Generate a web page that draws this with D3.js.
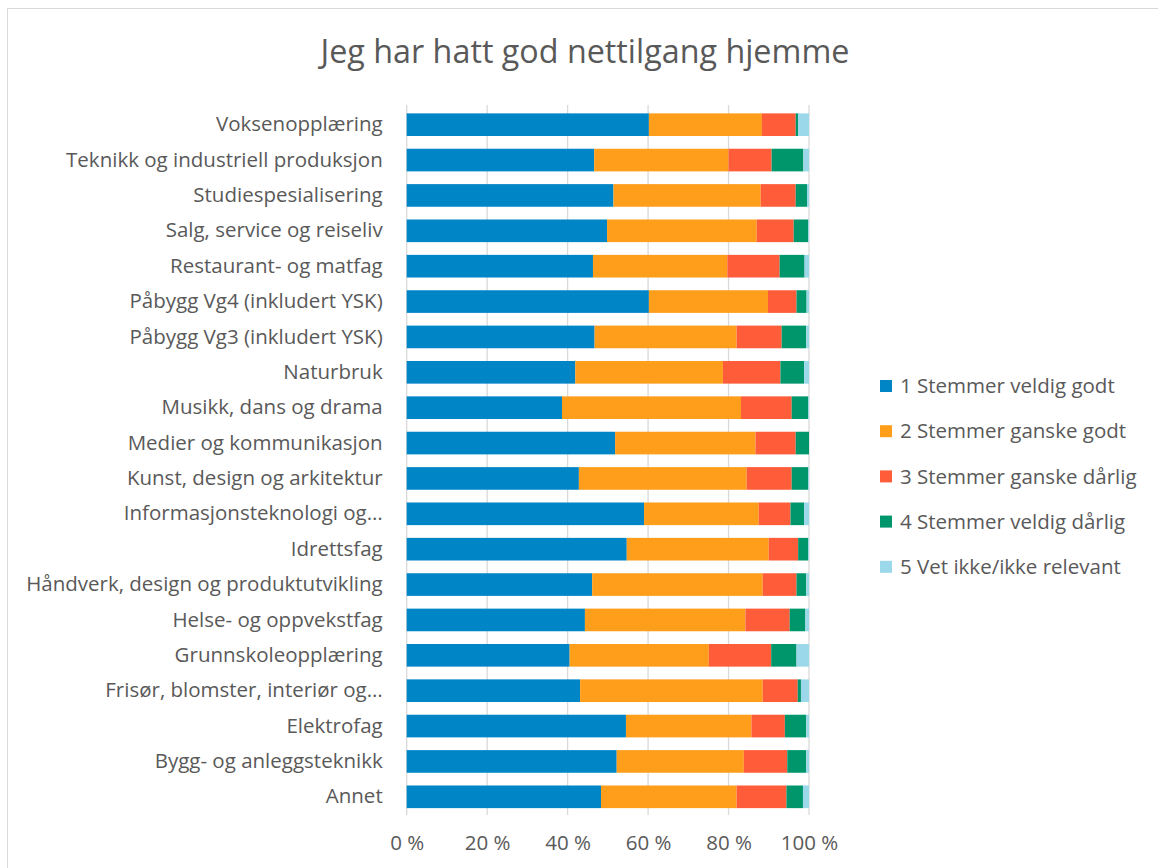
<!DOCTYPE html>
<html>
<head>
<meta charset="utf-8">
<script src="https://cdn.jsdelivr.net/npm/d3@7"></script>
<style>
  body { margin: 0; background: #fff; }
  text { font-family: "Open Sans", sans-serif; fill: #595959; }
</style>
</head>
<body>
<div id="chart"></div>
<script>
'use strict'

// categories, top to bottom
var categories = [
  'Voksenopplæring',
  'Teknikk og industriell produksjon',
  'Studiespesialisering',
  'Salg, service og reiseliv',
  'Restaurant- og matfag',
  'Påbygg Vg4 (inkludert YSK)',
  'Påbygg Vg3 (inkludert YSK)',
  'Naturbruk',
  'Musikk, dans og drama',
  'Medier og kommunikasjon',
  'Kunst, design og arkitektur',
  'Informasjonsteknologi og…',
  'Idrettsfag',
  'Håndverk, design og produktutvikling',
  'Helse- og oppvekstfag',
  'Grunnskoleopplæring',
  'Frisør, blomster, interiør og…',
  'Elektrofag',
  'Bygg- og anleggsteknikk',
  'Annet'
];

var seriesNames = [
  '1 Stemmer veldig godt',
  '2 Stemmer ganske godt',
  '3 Stemmer ganske dårlig',
  '4 Stemmer veldig dårlig',
  '5 Vet ikke/ikke relevant'
];

// percent per series, same order as categories
var s1 = [60.2, 46.6, 51.4, 49.8, 46.3, 60.2, 46.7, 41.9, 38.6, 51.8, 42.8, 59.0, 54.7, 46.1, 44.3, 40.5, 43.1, 54.5, 52.2, 48.3];
var s2 = [28.1, 33.4, 36.6, 37.2, 33.4, 29.6, 35.3, 36.7, 44.5, 34.9, 41.7, 28.5, 35.3, 42.4, 39.9, 34.6, 45.4, 31.2, 31.6, 33.7];
var s3 = [8.4, 10.7, 8.7, 9.2, 13.0, 7.1, 11.2, 14.3, 12.6, 10.0, 11.2, 7.9, 7.3, 8.4, 11.0, 15.5, 8.7, 8.3, 10.8, 12.4];
var s4 = [0.6, 7.9, 2.8, 3.6, 6.2, 2.5, 6.1, 5.9, 4.1, 3.3, 4.1, 3.4, 2.5, 2.4, 3.9, 6.3, 0.8, 5.3, 4.7, 4.1];
var s5 = [2.7, 1.4, 0.5, 0.2, 1.1, 0.6, 0.7, 1.2, 0.2, 0.0, 0.2, 1.2, 0.2, 0.7, 0.9, 3.1, 2.0, 0.7, 0.7, 1.5];

var xTicks = [0, 20, 40, 60, 80, 100];
var colors = ['#0085C7', '#FF9E1B', '#FF5C39', '#00966C', '#9BD8EA'];

var W = 1158, H = 868;
var FONT = '20.5px';
var svg = d3.select('#chart').append('svg').attr('width', W).attr('height', H);

// chart border
svg.append('rect')
  .attr('x', 7.5).attr('y', 8.5).attr('width', W + 10).attr('height', H + 10)
  .attr('fill', 'none').attr('stroke', '#d9d9d9').attr('stroke-width', 1);

svg.append('text')
  .attr('x', 585).attr('y', 63)
  .attr('text-anchor', 'middle')
  .attr('font-size', '32.3px')
  .text('Jeg har hatt god nettilgang hjemme');

var x = d3.scaleLinear().domain([0, 100]).range([406.7, 809]);
var y = d3.scaleBand().domain(categories).range([107, 814.5]).paddingInner(0.36).paddingOuter(0.18);

// build stacked rows
var rows = categories.map(function (c, i) {
  return { cat: c, v0: s1[i], v1: s2[i], v2: s3[i], v3: s4[i], v4: s5[i] };
});
var stack = d3.stack().keys(['v0', 'v1', 'v2', 'v3', 'v4']);
var layers = stack(rows);

// gridlines
svg.append('g')
  .selectAll('line')
  .data(xTicks)
  .enter()
  .append('line')
  .attr('x1', function (d) { return x(d) })
  .attr('x2', function (d) { return x(d) })
  .attr('y1', 105).attr('y2', 815)
  .attr('stroke', '#d9d9d9').attr('stroke-width', 1.3);

svg.append('g')
  .selectAll('g')
  .data(layers)
  .enter()
  .append('g')
  .attr('fill', function (d, i) { return colors[i] })
  .selectAll('rect')
  .data(function (d) { return d })
  .enter()
  .append('rect')
  .attr('x', function (d) { return x(d[0]) })
  .attr('width', function (d) { return Math.max(0, x(d[1]) - x(d[0])) })
  .attr('y', function (d) { return y(d.data.cat) })
  .attr('height', y.bandwidth());

// category labels
var yAxis = svg.append('g')
  .attr('transform', 'translate(406.7,0)')
  .call(d3.axisLeft(y).tickSize(0).tickPadding(24));
yAxis.select('.domain').remove();
yAxis.selectAll('text')
  .attr('font-size', FONT)
  .style('font-family', '"Open Sans", sans-serif')
  .attr('fill', '#595959');

// x axis labels
var xAxis = svg.append('g')
  .attr('transform', 'translate(0,815)')
  .call(d3.axisBottom(x).tickValues(xTicks).tickSize(0).tickPadding(20)
    .tickFormat(function (d) { return d + ' %' }));
xAxis.select('.domain').remove();
xAxis.selectAll('text')
  .attr('font-size', FONT)
  .style('font-family', '"Open Sans", sans-serif')
  .attr('fill', '#595959');

// legend
var legend = svg.append('g')
  .selectAll('g')
  .data(seriesNames)
  .enter()
  .append('g')
  .attr('transform', function (d, i) { return 'translate(880,' + (386 + i * 45.2) + ')' });
legend.append('rect')
  .attr('x', 0).attr('y', -6).attr('width', 12).attr('height', 12)
  .attr('fill', function (d, i) { return colors[i] });
legend.append('text')
  .attr('x', 20).attr('y', 0).attr('dy', '0.35em')
  .attr('font-size', FONT)
  .text(function (d) { return d });
</script>
</body>
</html>
